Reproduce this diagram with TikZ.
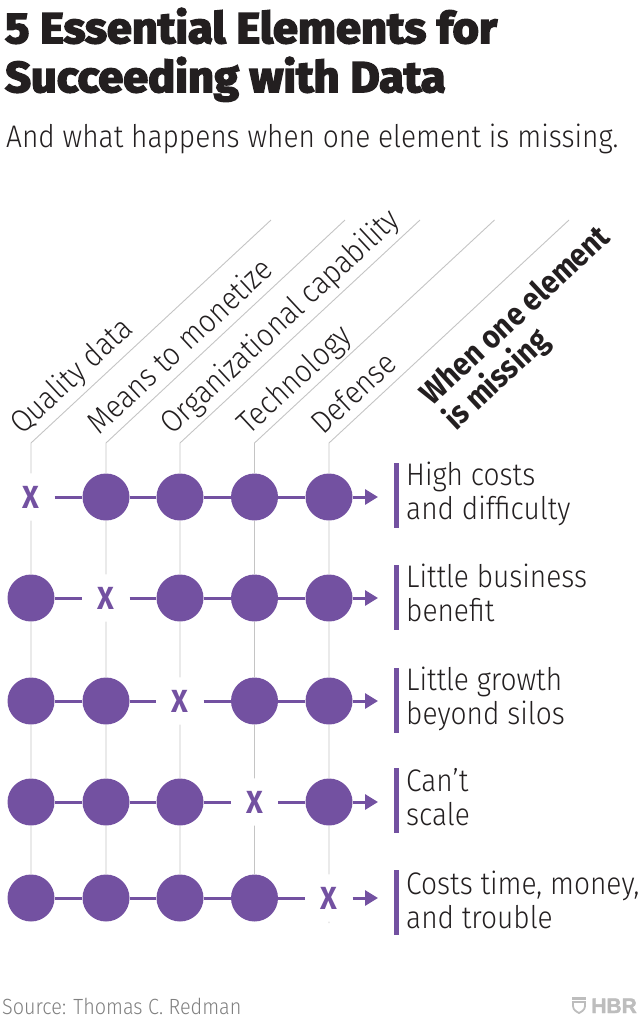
\documentclass[tikz,border=0pt]{standalone}
\usepackage{fontspec}
\setmainfont{Fira Sans Light}[FakeStretch=0.9,BoldFont=Fira Sans Bold]
\newfontfamily\headfont{Fira Sans Bold}[FakeBold=4,FakeStretch=1.05]
\newfontfamily\logofont{Liberation Sans Bold}[FakeBold=2]
\usetikzlibrary{arrows.meta}
\definecolor{hbrpurple}{HTML}{7351A1}
\definecolor{inkblack}{HTML}{231F20}
\definecolor{rulegray}{HTML}{C4C4C4}
\definecolor{logogray}{HTML}{BDBDBD}
\tikzset{
  dot/.style={circle, fill=hbrpurple, minimum size=47pt, inner sep=0pt},
  cross/.style={minimum size=47pt, inner sep=0pt, text=hbrpurple, font=\fontsize{32}{32}\selectfont\bfseries},
  rowline/.style={draw=hbrpurple, line width=3pt},
  rowarrow/.style={rowline, -{Triangle[length=13pt,width=15pt]}},
  colline/.style={draw=rulegray, line width=0.9pt},
  headlabel/.style={rotate=43, anchor=base west, text=inkblack, font=\fontsize{31.5}{31.5}\selectfont},
  resultbar/.style={fill=hbrpurple, minimum width=5pt, minimum height=65pt, inner sep=0pt},
  resulttext/.style={anchor=west, align=left, inner sep=0pt, text=inkblack, font=\fontsize{31.2}{34}\selectfont}
}
\begin{document}
\begin{tikzpicture}[x=1pt,y=-1pt]
\useasboundingbox (0,0) rectangle (641,1023);
\node[anchor=base west, inner sep=0pt, text=inkblack, font=\fontsize{43}{43}\headfont] (titlea) at (5,43) {5 Essential Elements for};
\node[anchor=base west, inner sep=0pt, text=inkblack, font=\fontsize{43}{43}\headfont] (titleb) at (5,92) {Succeeding with Data};
\node[anchor=base west, inner sep=0pt, text=inkblack, font=\fontsize{31.2}{32}\selectfont] (subtitle) at (6,147) {And what happens when one element is missing.};
% column heads
\coordinate (top1) at (271,220);
\coordinate (top2) at (345,220);
\coordinate (top3) at (420,220);
\coordinate (top4) at (494.5,220);
\coordinate (top5) at (569,220);
\coordinate (kink1) at (31,443);
\coordinate (kink2) at (106,443);
\coordinate (kink3) at (180,443);
\coordinate (kink4) at (254.5,443);
\coordinate (kink5) at (329,443);
\node[headlabel] (head1) at (20,438) {Quality data};
\node[headlabel] (head2) at (97,438) {Means to monetize};
\node[headlabel] (head3) at (170,438) {Organizational capability};
\node[headlabel] (head4) at (247,438) {Technology};
\node[headlabel] (head5) at (321,438) {Defense};
\node[headlabel, align=left, font=\fontsize{32}{34}\selectfont\bfseries, anchor=west] (headmissing) at (436,415) {When one element\\is missing};
% rows
\node[cross] (a1) at (31,497) {X};
\node[dot] (a2) at (106,497) {};
\node[dot] (a3) at (180,497) {};
\node[dot] (a4) at (254.5,497) {};
\node[dot] (a5) at (329,497) {};
\node[dot] (b1) at (31,598) {};
\node[cross] (b2) at (106,598) {X};
\node[dot] (b3) at (180,598) {};
\node[dot] (b4) at (254.5,598) {};
\node[dot] (b5) at (329,598) {};
\node[dot] (c1) at (31,701) {};
\node[dot] (c2) at (106,701) {};
\node[cross] (c3) at (180,701) {X};
\node[dot] (c4) at (254.5,701) {};
\node[dot] (c5) at (329,701) {};
\node[dot] (d1) at (31,802) {};
\node[dot] (d2) at (106,802) {};
\node[dot] (d3) at (180,802) {};
\node[cross] (d4) at (254.5,802) {X};
\node[dot] (d5) at (329,802) {};
\node[dot] (e1) at (31,898) {};
\node[dot] (e2) at (106,898) {};
\node[dot] (e3) at (180,898) {};
\node[dot] (e4) at (254.5,898) {};
\node[cross] (e5) at (329,898) {X};
\coordinate (tipa) at (378,497);
\coordinate (tipb) at (378,598);
\coordinate (tipc) at (378,701);
\coordinate (tipd) at (378,802);
\coordinate (tipe) at (378,898);
\coordinate (stub) at (329,923);
% columns behind the dots
\draw[colline] (top1) -- (kink1) -- (a1) (a1) -- (b1) -- (c1) -- (d1) -- (e1);
\draw[colline] (top2) -- (kink2) -- (a2) -- (b2) (b2) -- (c2) -- (d2) -- (e2);
\draw[colline] (top3) -- (kink3) -- (a3) -- (b3) -- (c3) (c3) -- (d3) -- (e3);
\draw[colline] (top4) -- (kink4) -- (a4) -- (b4) -- (c4) -- (d4) (d4) -- (e4);
\draw[colline] (top5) -- (kink5) -- (a5) -- (b5) -- (c5) -- (d5) -- (e5) (e5.south) -- (stub);
\draw[rowline] (a1) -- (a2) -- (a3) -- (a4) -- (a5);
\draw[rowline] (b1) -- (b2) (b2) -- (b3) -- (b4) -- (b5);
\draw[rowline] (c1) -- (c2) -- (c3) (c3) -- (c4) -- (c5);
\draw[rowline] (d1) -- (d2) -- (d3) -- (d4) (d4) -- (d5);
\draw[rowline] (e1) -- (e2) -- (e3) -- (e4) -- (e5);
\draw[rowarrow] (a5) -- (tipa);
\draw[rowarrow] (b5) -- (tipb);
\draw[rowarrow] (c5) -- (tipc);
\draw[rowarrow] (d5) -- (tipd);
\draw[rowarrow] (e5) -- (tipe);
% results
\node[resultbar] (bara) at (396.5,495) {};
\node[resultbar] (barb) at (396.5,597) {};
\node[resultbar] (barc) at (396.5,700) {};
\node[resultbar] (bard) at (396.5,800) {};
\node[resultbar] (bare) at (396.5,902) {};
\node[resulttext] (texta) at (406,494) {High costs\\and difficulty};
\node[resulttext] (textb) at (406,593) {Little business\\benefit};
\node[resulttext] (textc) at (406,699) {Little growth\\beyond silos};
\node[resulttext] (textd) at (406,797) {Can’t\\scale};
\node[resulttext] (texte) at (406,900) {Costs time, money,\\and trouble};
% footer
\node[anchor=base west, inner sep=0pt, text=black!50, font=\fontsize{22}{22}\selectfont] (source) at (2,1014) {Source: Thomas C. Redman};
\node[anchor=base east, inner sep=0pt, text=logogray, font=\fontsize{21}{21}\logofont] (logo) at (637,1013) {HBR};
\fill[logogray] (572,997) rectangle (586,999.5);
\draw[logogray, line width=1.8pt] (573,1002) -- (585,1002) -- (585,1006) .. controls (585,1010) and (581,1012) .. (579,1013) .. controls (577,1012) and (573,1010) .. (573,1006) -- cycle;
\end{tikzpicture}
\end{document}
